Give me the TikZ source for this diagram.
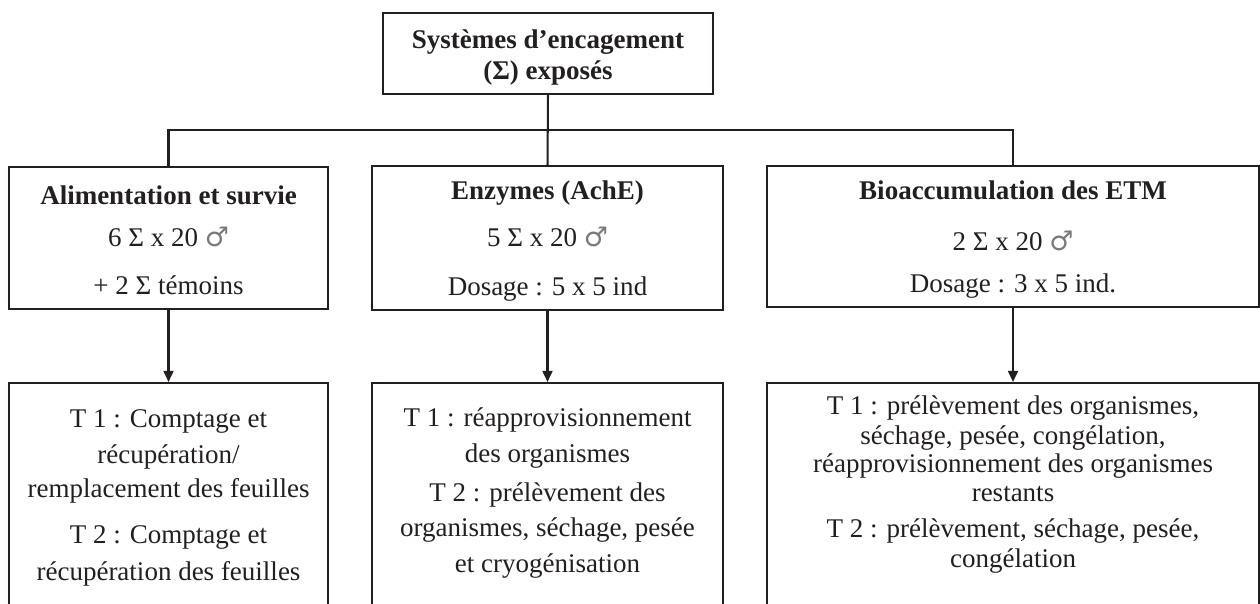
\documentclass[tikz,border=0pt]{standalone}
\usepackage{fontspec}
\setmainfont{Liberation Serif}
\newfontfamily\symfont{DejaVu Sans}
\usetikzlibrary{arrows.meta,fit}
\definecolor{ink}{HTML}{231F20}
\newcommand{\male}{{\symfont\color{ink!60}♂}}
\begin{document}
\begin{tikzpicture}[x=0.4444pt,y=-0.4444pt,
  box/.style={draw=ink,line width=0.9pt,inner sep=0pt},
  txt/.style={anchor=base,text=ink,inner sep=0pt,font=\fontsize{12pt}{14pt}\selectfont},
  conn/.style={draw=ink,line width=0.9pt},
  arr/.style={conn,-{Triangle[length=4.9pt,width=4.4pt]}}]
\useasboundingbox (0,0) rectangle (1260,604);
\clip (0,0) rectangle (1260,604);
% boxes
\node[box,fit={(383,13) (713,94)}] (T) {};
\node[box,fit={(9,167) (328,309)}] (A) {};
\node[box,fit={(372,166) (723,310)}] (B) {};
\node[box,fit={(767,166) (1259,307)}] (C) {};
\node[box,fit={(9,383) (328,660)}] (D) {};
\node[box,fit={(372,383) (723,660)}] (E) {};
\node[box,fit={(767,383) (1259,660)}] (F) {};
% connectors
\coordinate (J) at (548,130);
\draw[conn] (T.south) -- (B.north);
\draw[conn] (A.north) |- (J) -| (C.north);
\draw[arr] (A.south) -- (D.north);
\draw[arr] (B.south) -- (E.north);
\draw[arr] (C.south) -- (F.north);
% top text
\node[txt] (t1) at (548,49) {\bfseries Systèmes d’encagement};
\node[txt] (t2) at (548,80) {\bfseries (Σ) exposés};
% middle row
\node[txt] (a1) at (168.5,205) {\bfseries Alimentation et survie};
\node[txt] (a2) at (168.5,247) {6 Σ x 20 \male};
\node[txt] (a3) at (168.5,295) {+ 2 Σ témoins};
\node[txt] (b1) at (547.5,200) {\bfseries Enzymes (AchE)};
\node[txt] (b2) at (547.5,247) {5 Σ x 20 \male};
\node[txt] (b3) at (547.5,296) {Dosage : 5 x 5 ind};
\node[txt] (c1) at (1013,200) {\bfseries Bioaccumulation des ETM};
\node[txt] (c2) at (1013,251) {2 Σ x 20 \male};
\node[txt] (c3) at (1013,293) {Dosage : 3 x 5 ind.};
% bottom left
\node[txt] (d1) at (168.5,428) {T 1 : Comptage et};
\node[txt] (d2) at (168.5,464) {récupération/};
\node[txt] (d3) at (168.5,498) {remplacement des feuilles};
\node[txt] (d4) at (168.5,544) {T 2 : Comptage et};
\node[txt] (d5) at (168.5,581) {récupération des feuilles};
% bottom middle
\node[txt] (e1) at (547.5,427) {T 1 : réapprovisionnement};
\node[txt] (e2) at (547.5,463) {des organismes};
\node[txt] (e3) at (547.5,502) {T 2 : prélèvement des};
\node[txt] (e4) at (547.5,537) {organismes, séchage, pesée};
\node[txt] (e5) at (547.5,573) {et cryogénisation};
% bottom right
\node[txt] (f1) at (1013,415) {T 1 : prélèvement des organismes,};
\node[txt] (f2) at (1013,445) {séchage, pesée, congélation,};
\node[txt] (f3) at (1013,473) {réapprovisionnement des organismes};
\node[txt] (f4) at (1013,502) {restants};
\node[txt] (f5) at (1013,538) {T 2 : prélèvement, séchage, pesée,};
\node[txt] (f6) at (1013,568) {congélation};
\end{tikzpicture}
\end{document}
